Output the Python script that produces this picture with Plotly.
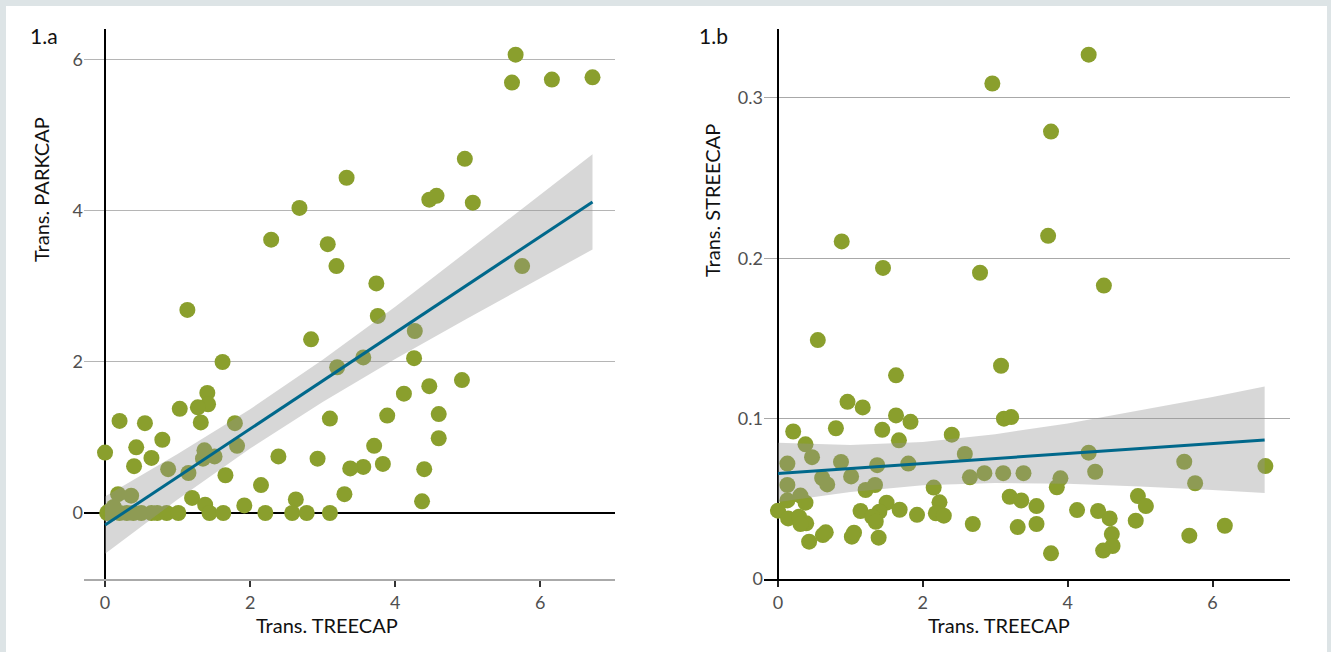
import plotly.graph_objects as go

W, H = 1331, 652

# --- 1.a : PARKCAP vs TREECAP ---
park_x = [5.66, 5.61, 6.16, 6.72, 4.96, 3.33, 4.47, 4.57, 5.07, 2.68,
          2.29, 3.07, 3.19, 5.75, 3.74, 1.135, 3.76, 4.27, 2.84, 1.62,
          3.56, 4.26, 3.20, 4.92, 4.47, 1.41, 4.12, 1.42, 1.28, 1.03,
          4.60, 3.89, 3.10, 0.20, 0.55, 1.32, 1.79, 4.60, 0.79, 3.71,
          1.82, 0.43, 1.37, 0.00, 1.51, 2.39, 0.64, 1.35, 2.93, 3.83,
          0.40, 3.56, 3.38, 4.40, 0.87, 1.15, 1.66, 2.15, 3.30, 0.18,
          0.36, 1.20, 2.63, 4.37, 1.38, 1.92, 0.12, 0.05,
          0.03, 0.09, 0.20, 0.30, 0.39, 0.50, 0.64, 0.72, 0.85, 1.01,
          1.44, 1.63, 2.21, 2.58, 2.78, 3.10]
park_y = [6.07, 5.70, 5.74, 5.77, 4.69, 4.44, 4.15, 4.20, 4.11, 4.04,
          3.62, 3.56, 3.27, 3.27, 3.04, 2.69, 2.61, 2.41, 2.30, 2.00,
          2.06, 2.05, 1.93, 1.76, 1.68, 1.59, 1.58, 1.44, 1.40, 1.38,
          1.31, 1.29, 1.25, 1.22, 1.19, 1.20, 1.19, 0.99, 0.97, 0.89,
          0.89, 0.87, 0.83, 0.80, 0.75, 0.75, 0.73, 0.72, 0.72, 0.65,
          0.62, 0.61, 0.59, 0.58, 0.58, 0.53, 0.50, 0.37, 0.25, 0.25,
          0.23, 0.20, 0.18, 0.155, 0.11, 0.10, 0.08, 0.02,
          0.0, 0.0, 0.0, 0.0, 0.0, 0.0, 0.0, 0.0, 0.0, 0.0,
          0.0, 0.0, 0.0, 0.0, 0.0, 0.0]

park_fit_x = [0, 6.72]
park_fit_y = [-0.16, 4.12]
park_band_x = [0, 1, 2, 3, 4, 5, 6, 6.72]
park_band_hi = [0.22, 0.78, 1.375, 2.03, 2.73, 3.47, 4.21, 4.75]
park_band_lo = [-0.54, 0.18, 0.853, 1.47, 2.04, 2.58, 3.11, 3.49]

# --- 1.b : STREECAP vs TREECAP ---
stree_x = [4.29, 2.96, 3.77, 3.73, 0.88, 1.45, 2.79, 4.50,
           0.55, 1.63, 3.08, 0.96, 1.17, 1.63, 1.83, 3.12, 3.22,
           0.80, 0.21, 1.44, 2.40, 0.38, 1.67, 0.47, 2.58,
           0.13, 0.87, 1.37, 1.80, 0.61, 0.68, 1.01, 2.65,
           2.85, 3.11, 3.39, 0.13, 1.21, 1.34, 2.15, 0.31,
           0.38, 0.13, 2.23, 3.20, 3.36, 0.00, 1.14, 1.50,
           1.40, 1.30, 1.68, 1.92, 2.18, 2.29, 0.14, 0.29,
           0.39, 0.31, 1.35, 2.69, 3.31, 0.62, 0.66, 1.02,
           1.05, 0.43, 1.39,
           4.29, 4.38, 5.61, 5.76, 6.73, 3.90, 3.85, 3.57,
           3.57, 3.77, 4.13, 4.42, 4.58, 4.61, 4.62, 4.49,
           4.97, 5.08, 4.94, 5.68, 6.17]
stree_y = [0.327, 0.309, 0.279, 0.214, 0.2105, 0.194, 0.191, 0.183,
           0.149, 0.127, 0.133, 0.1105, 0.107, 0.102, 0.098, 0.100, 0.101,
           0.094, 0.092, 0.093, 0.090, 0.084, 0.0865, 0.076, 0.078,
           0.072, 0.073, 0.071, 0.072, 0.063, 0.059, 0.064, 0.0634,
           0.066, 0.066, 0.066, 0.0586, 0.0555, 0.0586, 0.057, 0.052,
           0.0476, 0.049, 0.0478, 0.0513, 0.049, 0.0426, 0.0424, 0.0476,
           0.042, 0.0388, 0.0432, 0.040, 0.041, 0.0395, 0.0378, 0.0388,
           0.0347, 0.0343, 0.0357, 0.0343, 0.0324, 0.0274, 0.0291, 0.0264,
           0.0289, 0.0233, 0.0258,
           0.0788, 0.0669, 0.0731, 0.0597, 0.0704, 0.0628, 0.0572, 0.0455,
           0.0343, 0.016, 0.043, 0.0424, 0.0378, 0.028, 0.0206, 0.0177,
           0.0517, 0.0455, 0.0364, 0.027, 0.0332]

stree_fit_x = [0, 6.72]
stree_fit_y = [0.0658, 0.0867]
stree_band_x = [0, 1, 2, 3, 4, 5, 6, 6.72]
stree_band_hi = [0.085, 0.0835, 0.0855, 0.0903, 0.0970, 0.1051, 0.1135, 0.120]
stree_band_lo = [0.048, 0.0543, 0.0585, 0.0599, 0.0594, 0.0577, 0.0555, 0.0537]

OLIVE = "#8a9f2d"
TEAL = "#00688b"
BAND = "rgba(150,150,150,0.38)"
FONT = "Lato"

fig = go.Figure()


def add_panel(xs, ys, bx, hi, lo, fx, fy, xa, ya):
    fig.add_trace(go.Scatter(x=xs, y=ys, mode="markers", xaxis=xa, yaxis=ya,
                             marker=dict(color=OLIVE, size=16, line=dict(width=0)),
                             hoverinfo="x+y"))
    fig.add_trace(go.Scatter(x=bx + bx[::-1], y=hi + lo[::-1], xaxis=xa, yaxis=ya,
                             fill="toself", fillcolor=BAND, mode="lines",
                             line=dict(width=0), hoverinfo="skip"))
    fig.add_trace(go.Scatter(x=fx, y=fy, mode="lines", xaxis=xa, yaxis=ya,
                             line=dict(color=TEAL, width=3), hoverinfo="skip"))


add_panel(park_x, park_y, park_band_x, park_band_hi, park_band_lo,
          park_fit_x, park_fit_y, "x", "y")
add_panel(stree_x, stree_y, stree_band_x, stree_band_hi, stree_band_lo,
          stree_fit_x, stree_fit_y, "x2", "y2")

tickfont = dict(family=FONT, size=18, color="#505050")
ydom = [1 - 579 / H, 1 - 29 / H]

fig.update_layout(
    width=W, height=H,
    margin=dict(l=0, r=0, t=0, b=0, autoexpand=False),
    paper_bgcolor="#dde4e6",
    plot_bgcolor="rgba(0,0,0,0)",
    showlegend=False,
    font=dict(family=FONT, color="#111"),
    xaxis=dict(domain=[84 / W, 615 / W], range=[-0.29, 7.03], automargin=False,
               tickvals=[0, 2, 4, 6], ticks="outside", ticklen=6, tickwidth=2,
               tickcolor="#333", tickfont=tickfont, showgrid=False,
               showline=True, linecolor="#aaaaaa", linewidth=2,
               zeroline=True, zerolinecolor="black", zerolinewidth=2,
               fixedrange=True),
    yaxis=dict(domain=ydom, range=[-0.874, 6.41], tickvals=[0, 2, 4, 6],
               automargin=False,
               tickfont=tickfont, showgrid=True, gridcolor="#b5b5b5", gridwidth=1,
               zeroline=True, zerolinecolor="black", zerolinewidth=2,
               showline=False, ticks="", fixedrange=True),
    xaxis2=dict(domain=[764 / W, 1290 / W], range=[-0.193, 7.07], anchor="y2",
                automargin=False,
                tickvals=[0, 2, 4, 6], ticks="outside", ticklen=6, tickwidth=2,
                tickcolor="#222", tickfont=tickfont, showgrid=False,
                showline=True, linecolor="black", linewidth=2,
                zeroline=True, zerolinecolor="black", zerolinewidth=2,
                fixedrange=True),
    yaxis2=dict(domain=ydom, range=[0, 0.343], anchor="x2", automargin=False,
                tickvals=[0, 0.1, 0.2, 0.3], ticktext=["0", "0.1", "0.2", "0.3"],
                tickfont=tickfont, showgrid=True, gridcolor="#a8a8a8", gridwidth=1,
                zeroline=False, showline=False, ticks="", fixedrange=True),
)

# white card behind the charts
fig.add_shape(type="rect", xref="paper", yref="paper", layer="below",
              x0=6 / W, x1=1327 / W, y0=-0.05, y1=1 - 6 / H,
              fillcolor="white", line=dict(width=0))


def note(text, px, py, size, angle=0):
    fig.add_annotation(text=text, xref="paper", yref="paper",
                       x=px / W, y=1 - py / H, showarrow=False, textangle=angle,
                       font=dict(family=FONT, size=size, color="#111"),
                       xanchor="center", yanchor="middle")


note("1.a", 44, 35, 21)
note("1.b", 713, 35, 21)
note("Trans. TREECAP", 327, 625, 20)
note("Trans. TREECAP", 999, 625, 20)
note("Trans. PARKCAP", 41, 190, 20, -90)
note("Trans. STREECAP", 712, 200, 20, -90)

# drop the default 8px body margin so the figure sits at 0,0
fig.write_html("out.html", config={"displayModeBar": False},
               post_script="document.body.style.margin='0';"
                           "document.body.style.overflow='hidden';")
